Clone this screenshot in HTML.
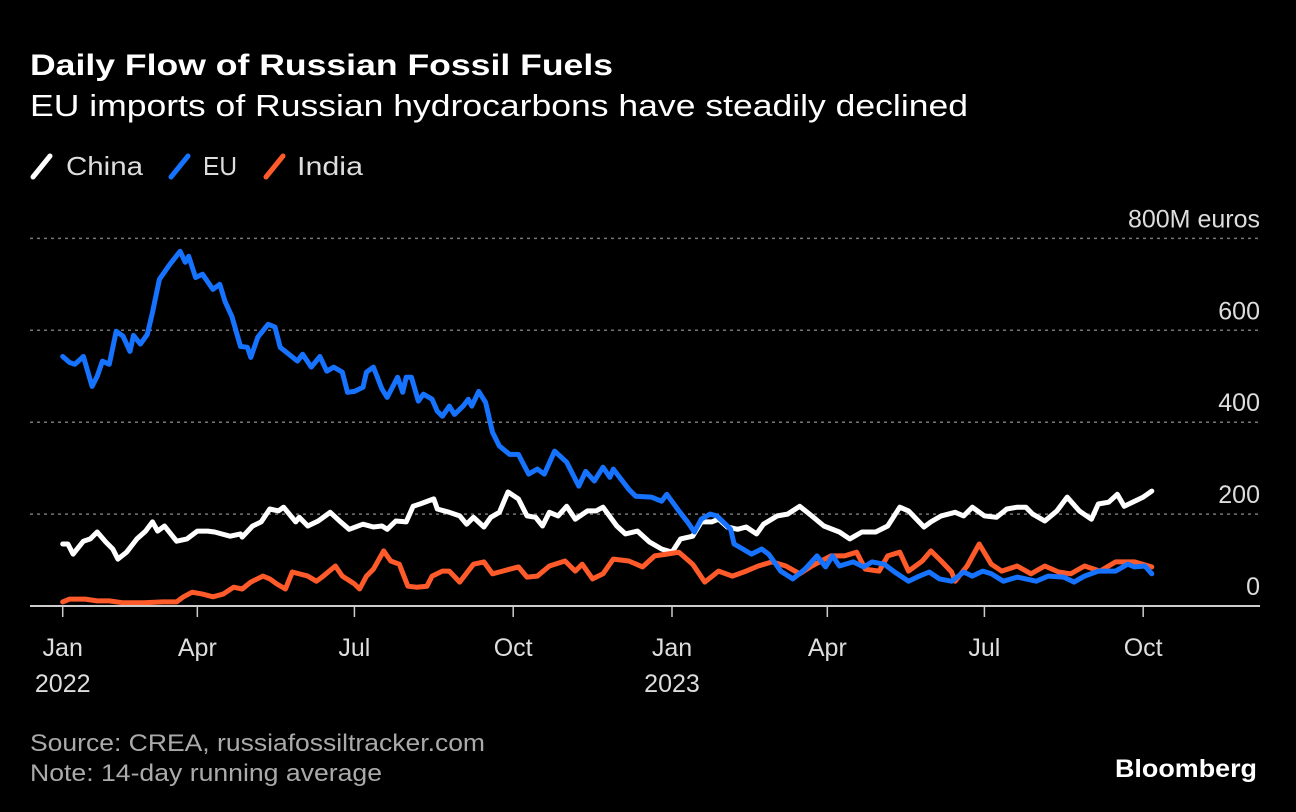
<!DOCTYPE html>
<html><head><meta charset="utf-8"><style>
html,body{margin:0;padding:0;background:#000;}
svg{display:block;font-family:"Liberation Sans",sans-serif;}
</style></head><body>
<svg id="chart" width="1296" height="812" viewBox="0 0 1296 812" xmlns="http://www.w3.org/2000/svg">
<rect width="1296" height="812" fill="#000"/>
<text x="30" y="75" fill="#fff" font-size="30" font-weight="bold" textLength="583" lengthAdjust="spacingAndGlyphs">Daily Flow of Russian Fossil Fuels</text>
<text x="30" y="116" fill="#fff" font-size="31" textLength="938" lengthAdjust="spacingAndGlyphs">EU imports of Russian hydrocarbons have steadily declined</text>
<g>
<g><line x1="33" y1="177" x2="50" y2="156" stroke="#fff" stroke-width="5" stroke-linecap="round"/><text x="66" y="175" fill="#ddd" font-size="26" textLength="77" lengthAdjust="spacingAndGlyphs">China</text></g>
<g><line x1="171" y1="177" x2="188" y2="156" stroke="#1673ff" stroke-width="5" stroke-linecap="round"/><text x="203" y="175" fill="#ddd" font-size="26" textLength="34" lengthAdjust="spacingAndGlyphs">EU</text></g>
<g><line x1="266" y1="177" x2="283" y2="156" stroke="#ff5a2a" stroke-width="5" stroke-linecap="round"/><text x="297" y="175" fill="#ddd" font-size="26" textLength="66" lengthAdjust="spacingAndGlyphs">India</text></g>
</g>
<g id="grid"></g>
<g id="series"></g>
<g id="xaxis"></g>
<text x="30" y="751" fill="#aaa" font-size="24" textLength="455" lengthAdjust="spacingAndGlyphs">Source: CREA, russiafossiltracker.com</text>
<text x="30" y="781" fill="#aaa" font-size="24" textLength="352" lengthAdjust="spacingAndGlyphs">Note: 14-day running average</text>
<text x="1257" y="777" fill="#fff" font-size="25" font-weight="bold" text-anchor="end" textLength="142" lengthAdjust="spacingAndGlyphs">Bloomberg</text>
</svg>
<script>
const yTicks = [0, 200, 400, 600, 800];
const yTickLabels = ["0", "200", "400", "600", "800M euros"];
const xTickDays = [12, 90, 181, 273, 365, 455, 546, 638];
const xTickLabels = ["Jan", "Apr", "Jul", "Oct", "Jan", "Apr", "Jul", "Oct"];
const xTickYears = ["2022", "", "", "", "2023", "", "", ""];
const chinaSeries = [[12,135],[15,135],[18,113],[24,141],[28,146],[32,161],[37,139],[41,124],[44,102],[49,117],[55,146],[60,163],[64,183],[67,163],[71,174],[78,141],[84,146],[90,163],[96,163],[100,161],[104,157],[109,152],[115,157],[116,150],[122,174],[127,183],[132,211],[137,207],[140,215],[147,183],[149,193],[154,174],[160,185],[167,204],[173,183],[178,167],[186,178],[192,172],[197,174],[200,167],[205,185],[211,183],[215,217],[219,222],[227,233],[229,211],[236,204],[242,196],[246,178],[250,193],[256,172],[260,193],[265,204],[270,248],[276,233],[281,196],[286,193],[290,174],[294,204],[299,196],[304,217],[309,189],[316,207],[321,207],[325,215],[333,174],[338,157],[345,163],[352,139],[359,124],[365,117],[370,146],[377,152],[382,183],[388,183],[392,189],[397,172],[403,167],[408,172],[414,157],[418,178],[426,196],[432,200],[439,217],[446,196],[453,174],[462,161],[468,146],[475,161],[483,161],[490,174],[497,215],[502,207],[511,172],[515,183],[521,196],[529,204],[534,196],[539,215],[546,196],[553,193],[559,211],[565,215],[570,215],[574,200],[581,185],[588,207],[594,237],[601,207],[608,189],[612,222],[618,226],[623,243],[627,217],[633,228],[638,237],[643,250]];
const euSeries = [[12,543],[16,530],[19,526],[24,543],[29,478],[32,500],[35,533],[39,526],[43,598],[47,587],[51,554],[53,589],[57,570],[61,591],[64,639],[68,711],[74,743],[80,772],[83,748],[85,761],[89,715],[93,722],[99,689],[103,700],[106,663],[110,630],[115,565],[119,563],[121,541],[125,585],[131,613],[135,607],[138,563],[143,548],[148,533],[151,548],[156,520],[161,543],[165,511],[169,520],[174,509],[177,465],[181,467],[186,476],[188,509],[192,520],[197,472],[200,454],[206,498],[209,465],[211,498],[214,498],[218,446],[221,461],[226,450],[229,424],[232,413],[236,435],[239,417],[244,435],[247,450],[249,435],[253,467],[257,443],[261,378],[265,348],[271,330],[276,330],[282,287],[287,298],[291,287],[297,337],[304,313],[311,261],[315,293],[320,272],[325,302],[329,280],[331,298],[340,254],[344,239],[353,237],[359,228],[362,243],[369,207],[374,183],[378,161],[382,189],[387,200],[391,196],[399,167],[401,135],[406,124],[411,113],[417,124],[421,113],[428,76],[435,59],[442,80],[449,109],[454,85],[458,109],[462,87],[470,96],[476,85],[481,96],[488,91],[494,74],[502,54],[507,63],[514,74],[520,59],[527,54],[534,74],[539,65],[545,76],[550,70],[557,54],[565,63],[576,54],[583,65],[592,63],[598,52],[604,65],[612,76],[622,76],[629,91],[633,85],[639,87],[643,70]];
const indiaSeries = [[12,9],[16,15],[25,15],[32,11],[39,11],[47,7],[59,7],[70,9],[78,9],[82,20],[87,30],[93,26],[99,20],[105,26],[111,41],[116,37],[121,52],[128,65],[132,59],[136,48],[141,37],[145,74],[154,65],[159,54],[163,65],[170,87],[174,65],[181,48],[184,37],[188,65],[192,80],[198,120],[202,98],[207,91],[212,43],[217,41],[223,43],[226,65],[232,76],[236,76],[242,52],[250,91],[256,96],[261,70],[265,74],[271,80],[276,85],[281,63],[287,65],[294,87],[303,98],[309,76],[313,91],[319,59],[325,70],[331,102],[340,98],[348,85],[355,109],[362,113],[369,117],[377,91],[384,52],[392,76],[400,65],[408,76],[415,87],[423,96],[431,87],[439,70],[446,87],[457,109],[465,109],[472,117],[477,80],[485,76],[490,109],[497,117],[502,76],[510,98],[515,120],[521,98],[527,74],[529,54],[536,87],[543,135],[550,91],[556,76],[565,87],[573,70],[581,87],[589,74],[596,70],[604,87],[613,76],[622,96],[633,96],[643,85]];

const NS = "http://www.w3.org/2000/svg";
const x = d => 42 + d * 1.726;
const y = v => 606 - v * 0.4595;
function mk(tag, attrs, parent) {
  const el = document.createElementNS(NS, tag);
  for (const k in attrs) el.setAttribute(k, attrs[k]);
  parent.appendChild(el);
  return el;
}
const grid = document.getElementById('grid');
yTicks.forEach((t, i) => {
  if (t > 0) {
    const gl = mk('line', {x1: 30, x2: 1260, y1: y(t), y2: y(t), stroke: '#777', 'stroke-width': 1.5, 'stroke-dasharray': '3,4'}, grid);
    
    
  }
  const lb = mk('text', {x: 1260, y: y(t) - 11, fill: '#ddd', 'font-size': 25, 'text-anchor': 'end'}, grid);
  lb.textContent = yTickLabels[i];
  
  
});
const series = document.getElementById('series');
[[chinaSeries, '#ffffff', 'china-line'], [indiaSeries, '#ff5a2a', 'india-line'], [euSeries, '#1673ff', 'eu-line']].forEach(s => {
  const d = s[0].map((p, i) => (i ? 'L' : 'M') + x(p[0]).toFixed(1) + ',' + y(p[1]).toFixed(1)).join('');
  const path = mk('path', {d: d, fill: 'none', stroke: s[1], 'stroke-width': 5, 'stroke-linejoin': 'round', 'stroke-linecap': 'round'}, series);
  
  
});
const xa = document.getElementById('xaxis');
const base = mk('line', {x1: 30, x2: 1260, y1: 606, y2: 606, stroke: '#ccc', 'stroke-width': 2}, xa);


xTickDays.forEach((d, i) => {
  const tk = mk('line', {x1: x(d), x2: x(d), y1: 607, y2: 617, stroke: '#ccc', 'stroke-width': 1.5}, xa);
  
  
  const lb = mk('text', {x: x(d), y: 656, fill: '#ddd', 'font-size': 25, 'text-anchor': 'middle'}, xa);
  lb.textContent = xTickLabels[i];
  
  
  if (xTickYears[i]) {
    const yl = mk('text', {x: x(d), y: 692, fill: '#ddd', 'font-size': 25, 'text-anchor': 'middle'}, xa);
    yl.textContent = xTickYears[i];
    
    
  }
});
</script>
</body></html>
